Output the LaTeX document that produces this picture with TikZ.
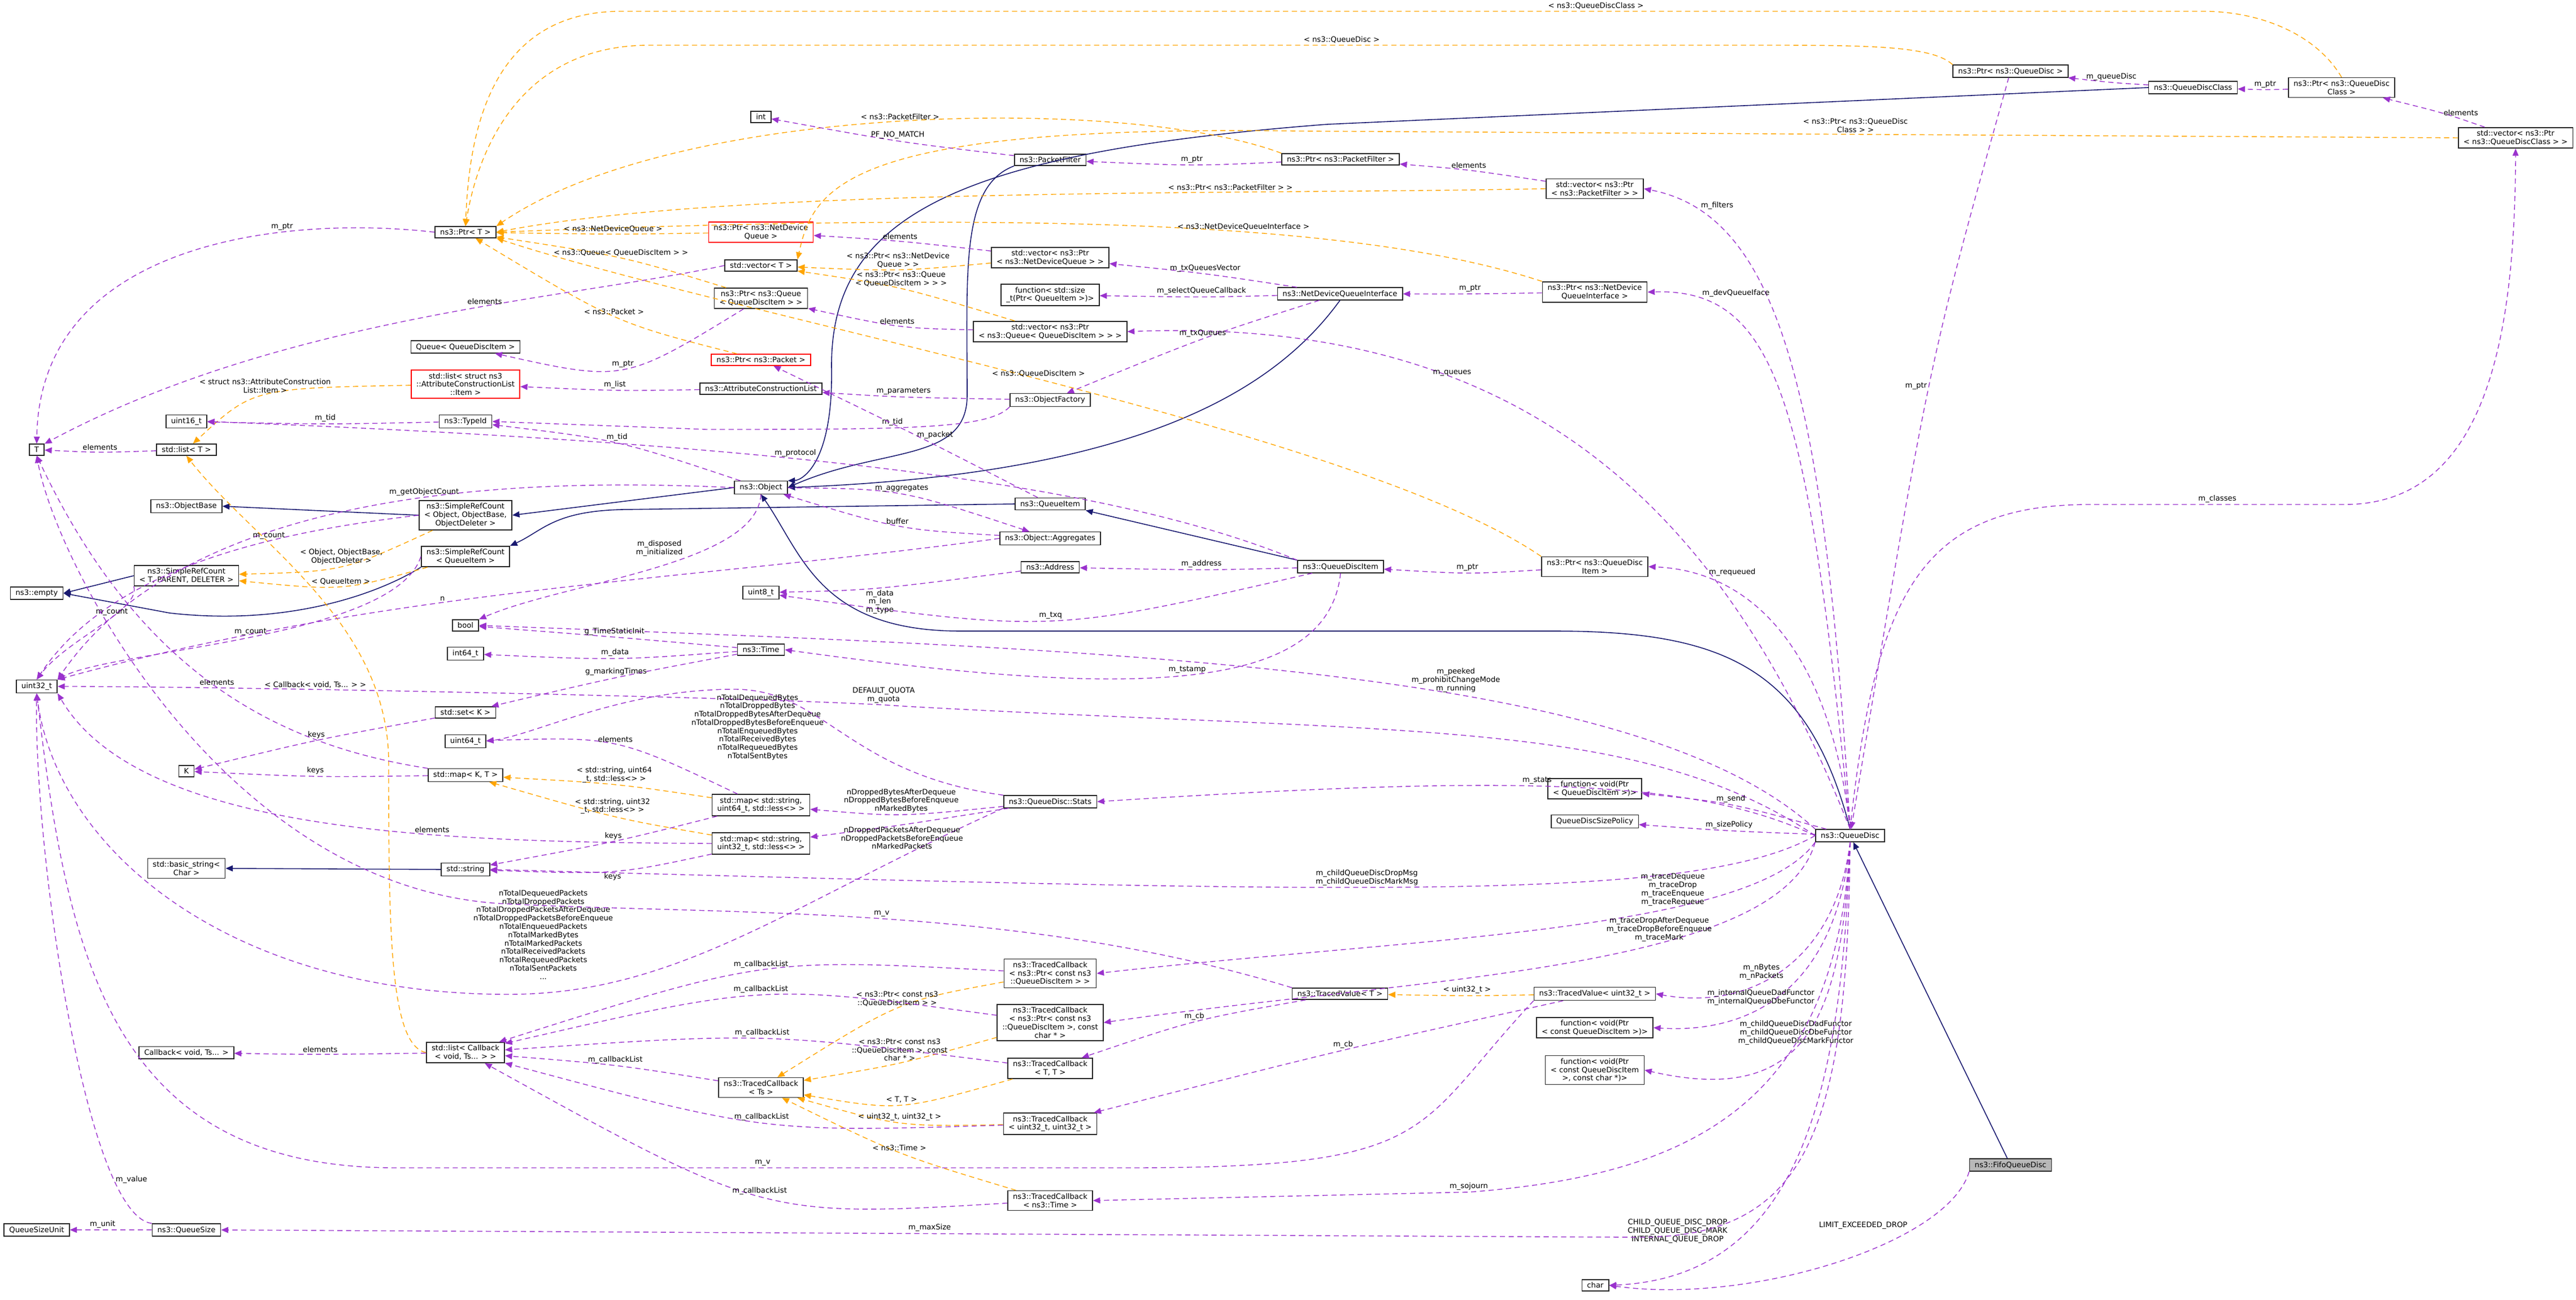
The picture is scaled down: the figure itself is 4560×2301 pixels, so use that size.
\documentclass[tikz,border=0pt]{standalone}
\usepackage{fontspec}
\setmainfont{DejaVu Sans}
\usetikzlibrary{arrows.meta,calc}
\definecolor{usecol}{HTML}{9A32CD}
\definecolor{tplcol}{HTML}{FFA500}
\definecolor{inhcol}{HTML}{191970}
\tikzset{
  cls/.style={draw=black!85, line width=0.45pt, fill=white, inner xsep=2.6pt, inner ysep=1.4pt, align=center, font=\fontsize{3.75}{4.2}\selectfont},
  redcls/.style={cls, draw=red},
  curcls/.style={cls, fill=black!28},
  lbl/.style={text=black, font=\fontsize{3.75}{4.2}\selectfont, align=center, inner sep=0.8pt},
  member/.style={usecol, dash pattern=on 2.6pt off 1.8pt, line width=0.4pt, -{Triangle[length=3.6pt,width=3pt]}},
  templ/.style={tplcol, dash pattern=on 2.6pt off 1.8pt, line width=0.4pt, -{Triangle[length=3.6pt,width=3pt]}},
  inherit/.style={inhcol, line width=0.45pt, -{Triangle[length=3.6pt,width=3pt]}}
}
% edge through a given middle point
\newcommand{\lnk}[6][above]{\draw[#2] (#3) .. controls ($1.3333*(#5)-0.1667*(#3)-0.1667*(#4)$) .. node[lbl,#1]{#6} (#4);}
\begin{document}
\begin{tikzpicture}[x=0.01cm, y=-0.01cm]
\useasboundingbox (0,0) rectangle (4560,2301);
% classes
\node[curcls] (fifo) at (3559,2062) {ns3::FifoQueueDisc};
\node[cls] (qdisc) at (3275,1479) {ns3::QueueDisc};
\node[cls] (chr) at (2824,2275) {char};
\node[cls] (pqd) at (3559,126) {ns3::Ptr< ns3::QueueDisc >};
\node[cls] (qdc) at (3882,155) {ns3::QueueDiscClass};
\node[cls] (pqdc) at (4145,155) {ns3::Ptr< ns3::QueueDisc\\Class >};
\node[cls] (vqdc) at (4453,244) {std::vector< ns3::Ptr\\< ns3::QueueDiscClass > >};
\node[cls] (int) at (1347,207) {int};
\node[cls] (pf) at (1859,283) {ns3::PacketFilter};
\node[cls] (ppf) at (2373,282) {ns3::Ptr< ns3::PacketFilter >};
\node[cls] (vpf) at (2823,334) {std::vector< ns3::Ptr\\< ns3::PacketFilter > >};
\node[cls] (ptrT) at (824,411) {ns3::Ptr< T >};
\node[redcls] (pndq) at (1347,411) {ns3::Ptr< ns3::NetDevice\\Queue >};
\node[cls] (vecT) at (1347,470) {std::vector< T >};
\node[cls] (vndq) at (1859,456) {std::vector< ns3::Ptr\\< ns3::NetDeviceQueue > >};
\node[cls] (pq) at (1347,528) {ns3::Ptr< ns3::Queue\\< QueueDiscItem > >};
\node[cls] (fsz) at (1859,522) {function< std::size\\\_t(Ptr< QueueItem >)>};
\node[cls] (vq) at (1859,587) {std::vector< ns3::Ptr\\< ns3::Queue< QueueDiscItem > > >};
\node[cls] (ndqi) at (2372,520) {ns3::NetDeviceQueueInterface};
\node[cls] (pndqi) at (2823,517) {ns3::Ptr< ns3::NetDevice\\QueueInterface >};
\node[cls] (queue) at (824,614) {Queue< QueueDiscItem >};
\node[redcls] (lacl) at (824,680) {std::list< struct ns3\\::AttributeConstructionList\\::Item >};
\node[redcls] (ppkt) at (1347,637) {ns3::Ptr< ns3::Packet >};
\node[cls] (acl) at (1347,688) {ns3::AttributeConstructionList};
\node[cls] (ofac) at (1859,708) {ns3::ObjectFactory};
\node[cls] (u16) at (330,746) {uint16\_t};
\node[cls] (tid) at (824,746) {ns3::TypeId};
\node[cls] (T) at (65,796) {T};
\node[cls] (listT) at (330,796) {std::list< T >};
\node[cls] (obj) at (1347,863) {ns3::Object};
\node[cls] (objb) at (330,896) {ns3::ObjectBase};
\node[cls] (srcobj) at (824,912) {ns3::SimpleRefCount\\< Object, ObjectBase,\\ObjectDeleter >};
\node[cls] (qitem) at (1859,892) {ns3::QueueItem};
\node[cls] (aggr) at (1859,953) {ns3::Object::Aggregates};
\node[cls] (empty) at (65,1050) {ns3::empty};
\node[cls] (srct) at (330,1019) {ns3::SimpleRefCount\\< T, PARENT, DELETER >};
\node[cls] (srcqi) at (824,985) {ns3::SimpleRefCount\\< QueueItem >};
\node[cls] (addr) at (1859,1004) {ns3::Address};
\node[cls] (qdi) at (2373,1003) {ns3::QueueDiscItem};
\node[cls] (pqdi) at (2823,1003) {ns3::Ptr< ns3::QueueDisc\\Item >};
\node[cls] (u8) at (1347,1049) {uint8\_t};
\node[cls] (u32) at (65,1215) {uint32\_t};
\node[cls] (bool) at (824,1107) {bool};
\node[cls] (time) at (1347,1150) {ns3::Time};
\node[cls] (i64) at (824,1157) {int64\_t};
\node[cls] (setK) at (824,1261) {std::set< K >};
\node[cls] (K) at (330,1365) {K};
\node[cls] (u64) at (824,1312) {uint64\_t};
\node[cls] (mapKT) at (824,1372) {std::map< K, T >};
\node[cls] (m64) at (1347,1425) {std::map< std::string,\\uint64\_t, std::less<> >};
\node[cls] (stats) at (1859,1419) {ns3::QueueDisc::Stats};
\node[cls] (fsend) at (2823,1396) {function< void(Ptr\\< QueueDiscItem >)>};
\node[cls] (szpol) at (2823,1454) {QueueDiscSizePolicy};
\node[cls] (m32) at (1347,1493) {std::map< std::string,\\uint32\_t, std::less<> >};
\node[cls] (bstr) at (330,1537) {std::basic\_string<\\Char >};
\node[cls] (str) at (824,1539) {std::string};
\node[cls] (tcq) at (1859,1723) {ns3::TracedCallback\\< ns3::Ptr< const ns3\\::QueueDiscItem > >};
\node[cls] (tcqc) at (1859,1810) {ns3::TracedCallback\\< ns3::Ptr< const ns3\\::QueueDiscItem >, const\\char * >};
\node[cls] (tvT) at (2372,1759) {ns3::TracedValue< T >};
\node[cls] (tv32) at (2823,1759) {ns3::TracedValue< uint32\_t >};
\node[cls] (fcq) at (2823,1819) {function< void(Ptr\\< const QueueDiscItem >)>};
\node[cls] (fcqc) at (2823,1894) {function< void(Ptr\\< const QueueDiscItem\\>, const char *)>};
\node[cls] (cb) at (330,1863) {Callback< void, Ts... >};
\node[cls] (lcb) at (824,1863) {std::list< Callback\\< void, Ts... > >};
\node[cls] (tcs) at (1347,1925) {ns3::TracedCallback\\< Ts >};
\node[cls] (tctt) at (1859,1891) {ns3::TracedCallback\\< T, T >};
\node[cls] (tc32) at (1859,1989) {ns3::TracedCallback\\< uint32\_t, uint32\_t >};
\node[cls] (tctime) at (1859,2125) {ns3::TracedCallback\\< ns3::Time >};
\node[cls] (qsu) at (65,2177) {QueueSizeUnit};
\node[cls] (qsize) at (330,2177) {ns3::QueueSize};

% inheritance
\draw[inherit] (fifo) -- (qdisc);
\draw[inherit] (qdisc.north) .. controls (3200,1180) and (3050,1117) .. (2750,1117) -- (1700,1117) .. controls (1450,1117) and (1420,980) .. (obj.south);
\draw[inherit] (qdc.west) -- (2350,220) .. controls (1700,270) and (1470,380) .. (1472,650) .. controls (1475,820) and (1420,850) .. (obj.north east);
\draw[inherit] (pf.south west) .. controls (1700,330) and (1712,480) .. (1712,700) .. controls (1712,820) and (1560,790) .. (obj.east);
\draw[inherit] (ndqi.south) .. controls (2250,700) and (2000,840) .. (obj.east);
\draw[inherit] (qdi.north west) -- (qitem.south east);
\draw[inherit] (qitem.west) -- (1100,902) .. controls (980,905) and (960,940) .. (srcqi.north east);
\draw[inherit] (obj.west) -- (srcobj.east);
\draw[inherit] (srcobj.west) -- (objb.east);
\draw[inherit] (srcqi.south west) .. controls (680,1045) and (520,1110) .. (300,1085) -- (empty.east);
\draw[inherit] (srct.west) -- (empty.east);
\draw[inherit] (str.west) -- (bstr.east);

% templates
\draw[templ] (pqd.north west) .. controls (3420,80) and (3300,80) .. (3100,80) -- node[lbl,above]{< ns3::QueueDisc >} (1650,80) -- (1150,80) .. controls (900,80) and (840,300) .. (ptrT.north);
\draw[templ] (pqdc.north) .. controls (4100,60) and (4000,20) .. (3900,20) -- node[lbl,above]{< ns3::QueueDiscClass >} (1750,20) -- (1100,20) .. controls (860,20) and (830,250) .. (ptrT.north);
\draw[templ] (vqdc.west) -- node[lbl,above,pos=0.52]{< ns3::Ptr< ns3::QueueDisc\\Class > >} (2300,232) .. controls (1500,220) and (1440,330) .. (vecT.north east);
\draw[templ] (ppf.north west) .. controls (2000,170) and (1200,180) .. node[lbl,above]{< ns3::PacketFilter >} (ptrT.north east);
\draw[templ] (vpf.west) .. controls (2200,345) and (1300,330) .. node[lbl,above,pos=0.3]{< ns3::Ptr< ns3::PacketFilter > >} (ptrT.east);
\draw[templ] (pndqi.north west) .. controls (2400,390) and (1800,375) .. node[lbl,above,pos=0.4]{< ns3::NetDeviceQueueInterface >} (ptrT.east);
\lnk{templ}{pndq}{ptrT}{1090,414}{< ns3::NetDeviceQueue >}
\lnk{templ}{vndq}{vecT}{1595,476}{< ns3::Ptr< ns3::NetDevice\\Queue > >}
\lnk{templ}{pq}{ptrT}{1100,458}{< ns3::Queue< QueueDiscItem > >}
\lnk{templ}{vq}{vecT}{1595,512}{< ns3::Ptr< ns3::Queue\\< QueueDiscItem > > >}
\lnk{templ}{ppkt}{ptrT}{1090,560}{< ns3::Packet >}
\draw[templ] (pqdi.north west) .. controls (2400,760) and (1300,560) .. node[lbl,above]{< ns3::QueueDiscItem >} (ptrT.south east);
\lnk{templ}{lacl}{listT}{480,700}{< struct ns3::AttributeConstruction\\List::Item >}
\lnk{templ}{srcobj}{srct}{600,1000}{< Object, ObjectBase,\\ObjectDeleter >}
\lnk{templ}{srcqi}{srct}{600,1035}{< QueueItem >}
\lnk{templ}{m64}{mapKT}{1090,1390}{< std::string, uint64\\\_t, std::less<> >}
\lnk{templ}{m32}{mapKT}{1090,1445}{< std::string, uint32\\\_t, std::less<> >}
\draw[templ] (lcb.west) .. controls (690,1850) and (688,1650) .. (688,1350) .. controls (688,1100) and (450,960) .. node[lbl,pos=0.2,left=3pt]{< Callback< void, Ts... > >} (listT.south);
\lnk{templ}{tcq}{tcs}{1595,1785}{< ns3::Ptr< const ns3\\::QueueDiscItem > >}
\lnk{templ}{tcqc}{tcs}{1595,1880}{< ns3::Ptr< const ns3\\::QueueDiscItem >, const\\char * >}
\lnk{templ}{tctt}{tcs}{1595,1952}{< T, T >}
\lnk{templ}{tc32}{tcs}{1595,1985}{< uint32\_t, uint32\_t >}
\lnk{templ}{tctime}{tcs}{1595,2040}{< ns3::Time >}
\lnk{templ}{tv32}{tvT}{2600,1762}{< uint32\_t >}

% members
\draw[member] (fifo.south west) .. controls (3450,2200) and (3100,2310) .. node[lbl,pos=0.3,above left]{LIMIT\_EXCEEDED\_DROP} (chr.east);
\draw[member] (qdisc.south) .. controls (3260,1900) and (3200,2260) .. node[lbl,pos=0.75,above left]{CHILD\_QUEUE\_DISC\_DROP\\CHILD\_QUEUE\_DISC\_MARK\\INTERNAL\_QUEUE\_DROP} (chr.east);
\lnk[left]{member}{pqd}{qdisc}{3415,683}{m\_ptr}
\lnk{member}{qdc}{pqd}{3735,145}{m\_queueDisc}
\lnk{member}{pqdc}{qdc}{4012,158}{m\_ptr}
\lnk[right]{member}{vqdc}{pqdc}{4320,200}{elements}
\draw[member] (qdisc.north) .. controls (3320,1050) and (3400,893) .. (3700,893) -- node[lbl,above]{m\_classes} (4150,893) .. controls (4400,893) and (4452,600) .. (vqdc.south);
\draw[member] (qdisc.north) .. controls (3230,700) and (3150,380) .. node[lbl,pos=0.85,above right]{m\_filters} (vpf.east);
\draw[member] (qdisc.north) .. controls (3200,720) and (3150,510) .. node[lbl,pos=0.85,above right]{m\_devQueueIface} (pndqi.east);
\draw[member] (qdisc.north) .. controls (3050,900) and (2700,560) .. node[lbl,pos=0.68,above]{m\_queues} (vq.east);
\draw[member] (qdisc.north) .. controls (3240,1150) and (3100,1010) .. node[lbl,pos=0.8,above right]{m\_requeued} (pqdi.east);
\lnk{member}{vpf}{ppf}{2598,302}{elements}
\lnk{member}{ppf}{pf}{2115,291}{m\_ptr}
\lnk{member}{pf}{int}{1595,250}{PF\_NO\_MATCH}
\lnk{member}{pndqi}{ndqi}{2600,520}{m\_ptr}
\lnk{member}{ndqi}{vndq}{2130,485}{m\_txQueuesVector}
\lnk{member}{vndq}{pndq}{1595,428}{elements}
\lnk{member}{ndqi}{fsz}{2130,525}{m\_selectQueueCallback}
\lnk{member}{vq}{pq}{1595,575}{elements}
\lnk{member}{pq}{queue}{1100,650}{m\_ptr}
\lnk{member}{ndqi}{ofac}{2130,600}{m\_txQueues}
\lnk{member}{ofac}{acl}{1595,702}{m\_parameters}
\draw[member] (ofac.south west) .. controls (1750,760) and (1600,760) .. node[lbl,above,pos=0.6]{m\_tid} (1250,760) -- (tid.east);
\lnk{member}{tid}{u16}{577,750}{m\_tid}
\lnk{member}{obj}{tid}{1091,785}{m\_tid}
\lnk{member}{acl}{lacl}{1090,690}{m\_list}
\draw[member] (vecT.west) .. controls (1000,530) and (500,560) .. node[lbl,pos=0.4,above]{elements} (T.north east);
\draw[member] (ptrT.west) .. controls (500,380) and (70,430) .. node[lbl,pos=0.3,above]{m\_ptr} (T.north);
\lnk{member}{listT}{T}{182,800}{elements}
\draw[member] (obj.west) .. controls (1000,850) and (350,840) .. node[lbl,pos=0.45,above]{m\_getObjectCount} (u32.north east);
\draw[member] (obj.south) .. controls (1340,1000) and (1000,1030) .. node[lbl,pos=0.4,above left]{m\_disposed\\m\_initialized} (bool.north east);
\lnk{member}{obj}{aggr}{1595,876}{m\_aggregates}
\lnk{member}{aggr}{obj}{1595,930}{buffer}
\draw[member] (aggr.west) .. controls (1200,1030) and (700,1040) .. node[lbl,pos=0.6,above]{n} (u32.north east);
\draw[member] (srcobj.west) .. controls (500,940) and (200,1000) .. node[lbl,pos=0.35,above]{m\_count} (u32.north);
\draw[member] (srcqi.west) .. controls (700,1130) and (200,1150) .. node[lbl,pos=0.5,above]{m\_count} (u32.north east);
\draw[member] (srct.south west) .. controls (250,1080) and (120,1130) .. node[lbl,pos=0.4,above]{m\_count} (u32.north);
\lnk[right]{member}{qitem}{ppkt}{1620,770}{m\_packet}
\lnk{member}{qdi}{addr}{2130,1008}{m\_address}
\lnk{member}{qdi}{u8}{1862,1097}{m\_txq}
\lnk[below]{member}{addr}{u8}{1560,1040}{m\_data\\m\_len\\m\_type}
\draw[member] (qdi.south) .. controls (2350,1230) and (2000,1235) .. node[lbl,pos=0.5,above]{m\_tstamp} (time.east);
\draw[member] (qdi.north west) .. controls (2000,870) and (1500,790) .. node[lbl,pos=0.62,above]{m\_protocol} (u16.east);
\lnk{member}{pqdi}{qdi}{2600,1013}{m\_ptr}
\draw[member] (qdisc.north west) .. controls (2900,1180) and (2000,1150) .. node[lbl,pos=0.4,above]{m\_peeked\\m\_prohibitChangeMode\\m\_running} (bool.east);
\draw[member] (qdisc.west) .. controls (2900,1270) and (2500,1300) .. (1600,1250) .. controls (1400,1235) and (400,1215) .. node[lbl,pos=0.05,above]{DEFAULT\_QUOTA\\m\_quota} (u32.east);
\draw[member] (qdisc.west) .. controls (3000,1380) and (2700,1370) .. node[lbl,pos=0.55,above]{m\_stats} (stats.east);
\draw[member] (stats.south west) .. controls (1400,1600) and (1200,1760) .. node[lbl,pos=0.93,above=6pt]{nTotalDequeuedPackets\\nTotalDroppedPackets\\nTotalDroppedPacketsAfterDequeue\\nTotalDroppedPacketsBeforeEnqueue\\nTotalEnqueuedPackets\\nTotalMarkedBytes\\nTotalMarkedPackets\\nTotalReceivedPackets\\nTotalRequeuedPackets\\nTotalSentPackets\\...} (900,1760) .. controls (400,1760) and (100,1500) .. (u32.south);
\draw[member] (stats.north west) .. controls (1500,1370) and (1460,1220) .. node[lbl,pos=0.55,left=4pt]{nTotalDequeuedBytes\\nTotalDroppedBytes\\nTotalDroppedBytesAfterDequeue\\nTotalDroppedBytesBeforeEnqueue\\nTotalEnqueuedBytes\\nTotalReceivedBytes\\nTotalRequeuedBytes\\nTotalSentBytes} (1300,1220) .. controls (1100,1220) and (950,1300) .. (u64.east);
\lnk{member}{stats}{m64}{1595,1440}{nDroppedBytesAfterDequeue\\nDroppedBytesBeforeEnqueue\\nMarkedBytes}
\lnk[below]{member}{stats}{m32}{1595,1460}{nDroppedPacketsAfterDequeue\\nDroppedPacketsBeforeEnqueue\\nMarkedPackets}
\lnk{member}{time}{bool}{1090,1128}{g\_TimeStaticInit}
\lnk{member}{time}{i64}{1090,1165}{m\_data}
\lnk{member}{time}{setK}{1090,1200}{g\_markingTimes}
\lnk{member}{setK}{K}{565,1310}{keys}
\lnk{member}{mapKT}{K}{565,1374}{keys}
\draw[member] (mapKT.north west) .. controls (500,1320) and (250,1200) .. node[lbl,pos=0.5,above]{elements} (T.south);
\lnk{member}{m64}{str}{1090,1488}{keys}
\lnk{member}{m64}{u64}{1090,1320}{elements}
\draw[member] (m32.west) .. controls (800,1490) and (250,1480) .. node[lbl,pos=0.35,above]{elements} (u32.south east);
\lnk[below]{member}{m32}{str}{1090,1540}{keys}
\lnk{member}{qdisc}{fsend}{3059,1425}{m\_send}
\lnk{member}{qdisc}{szpol}{3059,1470}{m\_sizePolicy}
\draw[member] (qdisc.west) .. controls (3000,1600) and (2400,1580) .. node[lbl,pos=0.55,above]{m\_childQueueDiscDropMsg\\m\_childQueueDiscMarkMsg} (str.east);
\draw[member] (qdisc.south west) .. controls (3100,1650) and (2500,1660) .. node[lbl,pos=0.33,above]{m\_traceDequeue\\m\_traceDrop\\m\_traceEnqueue\\m\_traceRequeue} (tcq.east);
\draw[member] (qdisc.south west) .. controls (3150,1720) and (2500,1730) .. node[lbl,pos=0.37,above]{m\_traceDropAfterDequeue\\m\_traceDropBeforeEnqueue\\m\_traceMark} (tcqc.east);
\draw[member] (qdisc.south) .. controls (3250,1700) and (3100,1790) .. node[lbl,pos=0.6,above]{m\_nBytes\\m\_nPackets} (tv32.east);
\draw[member] (qdisc.south) .. controls (3250,1750) and (3100,1830) .. node[lbl,pos=0.6,above]{m\_internalQueueDadFunctor\\m\_internalQueueDbeFunctor} (fcq.east);
\draw[member] (qdisc.south) .. controls (3260,1800) and (3200,1960) .. node[lbl,pos=0.55,above]{m\_childQueueDiscDadFunctor\\m\_childQueueDiscDbeFunctor\\m\_childQueueDiscMarkFunctor} (fcqc.east);
\draw[member] (qdisc.south) .. controls (3250,1950) and (3000,2080) .. (2600,2110) -- node[lbl,above,pos=0.0]{m\_sojourn} (tctime.east);
\draw[member] (qdisc.south) .. controls (3270,2000) and (3200,2190) .. (2900,2190) -- node[lbl,above]{m\_maxSize} (qsize.east);
\lnk{member}{qsize}{qsu}{182,2177}{m\_unit}
\draw[member] (qsize.north west) .. controls (150,2150) and (60,1500) .. node[lbl,pos=0.2,right]{m\_value} (u32.south);
\lnk{member}{tvT}{tctt}{2115,1810}{m\_cb}
\draw[member] (tvT.north west) .. controls (1800,1600) and (1300,1620) .. node[lbl,pos=0.5,above]{m\_v} (900,1600) .. controls (400,1580) and (100,1000) .. (T.south);
\draw[member] (tv32.south west) .. controls (2500,2000) and (2550,2067) .. (2000,2067) -- node[lbl,above]{m\_v} (700,2067) .. controls (200,2067) and (120,1700) .. (u32.south);
\lnk{member}{tv32}{tc32}{2375,1860}{m\_cb}
\lnk{member}{tcq}{lcb}{1350,1720}{m\_callbackList}
\lnk{member}{tcqc}{lcb}{1350,1765}{m\_callbackList}
\lnk{member}{tctt}{lcb}{1350,1840}{m\_callbackList}
\lnk{member}{tcs}{lcb}{1090,1887}{m\_callbackList}
\lnk{member}{tc32}{lcb}{1350,1985}{m\_callbackList}
\lnk{member}{tctime}{lcb}{1350,2115}{m\_callbackList}
\lnk{member}{lcb}{cb}{565,1866}{elements}
\end{tikzpicture}
\end{document}
